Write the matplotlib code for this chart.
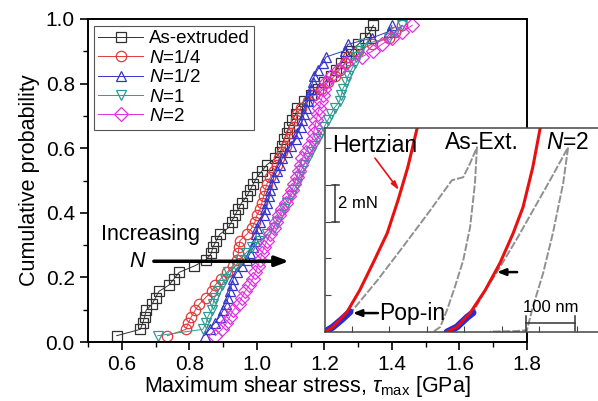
import numpy as np
import matplotlib
matplotlib.use('Agg')
import matplotlib.pyplot as plt

plt.rcParams['font.family'] = ['Liberation Sans', 'DejaVu Sans']
plt.rcParams['mathtext.fontset'] = 'custom'
plt.rcParams['mathtext.rm'] = 'Liberation Sans'
plt.rcParams['mathtext.it'] = 'Liberation Sans:italic'

# max shear stress at pop-in (GPa), sorted
as_extruded = [0.585, 0.655, 0.662, 0.668, 0.672, 0.69, 0.70, 0.71, 0.74, 0.755,
               0.77, 0.815, 0.85, 0.865, 0.87, 0.88, 0.89, 0.915, 0.925, 0.935,
               0.945, 0.955, 0.97, 0.98, 0.99, 1.0, 1.015, 1.03, 1.055, 1.07,
               1.075, 1.08, 1.09, 1.095, 1.105, 1.115, 1.12, 1.14, 1.16, 1.18,
               1.2, 1.22, 1.235, 1.25, 1.265, 1.28, 1.30, 1.32, 1.335, 1.345]
n_quarter = [0.735, 0.79, 0.797, 0.806, 0.817, 0.83, 0.848, 0.866, 0.877, 0.893,
             0.912, 0.928, 0.94, 0.945, 0.947, 0.95, 0.97, 0.985, 0.995, 1.0,
             1.01, 1.015, 1.02, 1.025, 1.03, 1.04, 1.05, 1.06, 1.066, 1.075,
             1.085, 1.095, 1.10, 1.11, 1.115, 1.12, 1.13, 1.15, 1.17, 1.19,
             1.21, 1.23, 1.245, 1.26, 1.27, 1.30, 1.34, 1.39, 1.41, 1.43]
n_half = [0.845, 0.86, 0.875, 0.89, 0.90, 0.91, 0.915, 0.92, 0.925, 0.93,
          0.94, 0.955, 0.97, 0.98, 0.99, 0.995, 0.998, 1.0, 1.01, 1.02,
          1.025, 1.03, 1.035, 1.04, 1.045, 1.05, 1.06, 1.07, 1.075, 1.09,
          1.10, 1.115, 1.12, 1.13, 1.135, 1.14, 1.145, 1.15, 1.155, 1.16,
          1.165, 1.17, 1.18, 1.195, 1.205, 1.26, 1.27, 1.34, 1.39, 1.40]
n_one = [0.707, 0.84, 0.85, 0.855, 0.866, 0.87, 0.875, 0.885, 0.896, 0.907,
         0.916, 0.937, 0.95, 0.967, 0.985, 1.01, 1.03, 1.05, 1.06, 1.07,
         1.08, 1.09, 1.10, 1.11, 1.12, 1.125, 1.13, 1.14, 1.15, 1.16,
         1.17, 1.18, 1.19, 1.2, 1.21, 1.22, 1.23, 1.245, 1.25, 1.255,
         1.265, 1.27, 1.28, 1.29, 1.295, 1.305, 1.315, 1.39, 1.41, 1.43]
n_two = [0.877, 0.896, 0.91, 0.92, 0.93, 0.946, 0.955, 0.965, 0.978, 0.988,
         0.995, 1.003, 1.01, 1.015, 1.022, 1.03, 1.04, 1.05, 1.056, 1.065,
         1.075, 1.085, 1.095, 1.105, 1.11, 1.118, 1.125, 1.13, 1.135, 1.145,
         1.155, 1.165, 1.168, 1.172, 1.176, 1.18, 1.185, 1.19, 1.195, 1.2,
         1.205, 1.22, 1.24, 1.265, 1.31, 1.345, 1.37, 1.40, 1.43, 1.46]

series = [(as_extruded, 'As-extruded', '#303030', 's'),
          (n_quarter, r'$N$=1/4', '#e03a3a', 'o'),
          (n_half, r'$N$=1/2', '#3535c8', '^'),
          (n_one, r'$N$=1', '#2f9a94', 'v'),
          (n_two, r'$N$=2', '#e030e0', 'D')]

# inset: load (mN) vs depth (nm)
hertz1_h = [0, 16, 45, 71, 98, 127, 149, 169, 188]
hertz1_p = [0, 0.27, 1.09, 2.28, 3.75, 5.38, 7.17, 8.97, 11.09]
hertz2_h = [249, 269, 296, 327, 357, 384, 404, 424, 439]
hertz2_p = [0, 0.27, 1.03, 2.28, 3.75, 5.38, 6.79, 8.97, 11.09]
blue1_h = [0, 16, 35, 51]
blue1_p = [0, 0.27, 0.7, 1.1]
blue2_h = [249, 269, 290, 302]
blue2_p = [0, 0.27, 0.8, 1.05]
asext_h = [0, 16, 35, 51, 57, 108, 158, 210, 259, 282, 296, 310,
           306, 296, 282, 265, 249, 235, 220]
asext_p = [0, 0.27, 0.7, 1.09, 1.2, 2.85, 4.6, 6.45, 8.26, 8.42, 9.18, 10.05,
           8.1, 5.7, 3.9, 2.45, 1.2, 0.27, 0]
n2_h = [249, 269, 290, 302, 327, 351, 390, 424, 460, 496,
        486, 465, 445, 424, 412, 390, 337]
n2_p = [0, 0.27, 0.8, 1.05, 2.28, 3.26, 5.0, 6.6, 8.3, 10.05,
        8.1, 5.38, 3.2, 1.36, 0.1, 0.05, 0.02]

fig = plt.figure(figsize=(5.98, 4.01), dpi=100)
ax = fig.add_axes([88/598, 59/401, 439/598, 323/401])

for vals, lab, col, mk in series:
    x = np.array(vals)
    y = np.arange(1, len(x) + 1) / (len(x) + 1)
    ax.plot(x, y, color=col, lw=0.7, marker=mk, ms=7.5 if mk != 'D' else 7,
            mfc='none', mec=col, mew=0.9, label=lab)

ax.set_xlim(0.5, 1.8)
ax.set_ylim(0, 1.0)
ax.set_xticks([0.6, 0.8, 1.0, 1.2, 1.4, 1.6, 1.8])
ax.set_xticks(np.arange(0.5, 1.81, 0.1), minor=True)
ax.set_yticks(np.arange(0, 1.01, 0.2))
ax.set_yticks(np.arange(0, 1.01, 0.1), minor=True)
ax.xaxis.set_major_formatter(matplotlib.ticker.FormatStrFormatter('%.1f'))
ax.yaxis.set_major_formatter(matplotlib.ticker.FormatStrFormatter('%.1f'))
ax.tick_params(which='major', direction='out', length=6, width=1.2, labelsize=15)
ax.tick_params(which='minor', direction='out', length=3.5, width=1.0)
for s in ax.spines.values():
    s.set_linewidth(1.4)
ax.set_xlabel(r'Maximum shear stress, $\tau_{\rm max}$ [GPa]', fontsize=15.5, labelpad=0)
ax.set_ylabel('Cumulative probability', fontsize=15.5, labelpad=4)

leg = ax.legend(loc='upper left', bbox_to_anchor=(0.0, 0.997), fontsize=13.5,
                handlelength=2.4, handletextpad=0.3, labelspacing=0.12,
                borderpad=0.25, borderaxespad=0.3, fancybox=False, framealpha=1)
leg.get_frame().set_edgecolor('#555555')
leg.get_frame().set_linewidth(0.8)

ax.text(0.684, 0.332, 'Increasing', fontsize=15.5, ha='center', va='center')
ax.text(0.667, 0.25, 'N', fontsize=15.5, style='italic', ha='right', va='center')
ax.annotate('', xy=(1.095, 0.25), xytext=(0.695, 0.25),
            arrowprops=dict(arrowstyle='-|>,head_length=0.8,head_width=0.3',
                            color='black', lw=2.5, shrinkA=0, shrinkB=0))

ins = fig.add_axes([325/598, 69/401, 273/598, 204/401])
ins.set_xlim(0, 557)
ins.set_ylim(0, 11.1)
ins.plot(asext_h, asext_p, color='#909090', lw=1.4, ls=(0, (4, 1)))
ins.plot(n2_h, n2_p, color='#909090', lw=1.4, ls=(0, (4, 1)))
ins.plot(blue1_h, blue1_p, color='#2b2bd8', lw=5, solid_capstyle='round')
ins.plot(blue2_h, blue2_p, color='#2b2bd8', lw=5, solid_capstyle='round')
ins.plot(hertz1_h, hertz1_p, color='#e81010', lw=2.2)
ins.plot(hertz2_h, hertz2_p, color='#e81010', lw=2.2)
ins.set_xticks(np.arange(55, 557, 76.5))
ins.set_yticks([2, 4, 6, 8, 10])
ins.tick_params(direction='in', length=4, width=0.8, labelbottom=False, labelleft=False,
                color='#444444')
ins.spines['right'].set_visible(False)
for k in ['top', 'left', 'bottom']:
    ins.spines[k].set_linewidth(1.1)
    ins.spines[k].set_color('#444444')

ins.text(14, 10.16, 'Hertzian', fontsize=16.5, ha='left', va='center')
ins.text(320, 10.3, 'As-Ext.', fontsize=16.5, ha='center', va='center')
ins.text(496, 10.3, r'$N$=2', fontsize=16.5, ha='center', va='center')
ins.annotate('', xy=(151, 7.72), xytext=(102, 9.46),
             arrowprops=dict(arrowstyle='-|>,head_length=0.5,head_width=0.15',
                             color='#e81010', lw=1.2, shrinkA=0, shrinkB=0))
ins.annotate('', xy=(57, 1.03), xytext=(108, 1.03),
             arrowprops=dict(arrowstyle='-|>,head_length=0.5,head_width=0.2',
                             color='black', lw=1.8, shrinkA=0, shrinkB=0))
ins.text(110, 1.03, 'Pop-in', fontsize=16.5, ha='left', va='center')
ins.annotate('', xy=(351, 3.26), xytext=(392, 3.26),
             arrowprops=dict(arrowstyle='-|>,head_length=0.5,head_width=0.2',
                             color='black', lw=1.8, shrinkA=0, shrinkB=0))

# scale bars
ins.plot([20, 20], [6.0, 8.0], color='#333333', lw=1.1)
ins.plot([14, 28], [8.0, 8.0], color='#333333', lw=1.1)
ins.plot([14, 28], [6.0, 6.0], color='#333333', lw=1.1)
ins.text(27, 7.0, '2 mN', fontsize=12, ha='left', va='center')
ins.plot([410, 510], [0.49, 0.49], color='#333333', lw=1.1)
ins.plot([410, 410], [0.05, 0.85], color='#333333', lw=1.1)
ins.plot([510, 510], [0.05, 0.85], color='#333333', lw=1.1)
ins.text(460, 1.35, '100 nm', fontsize=12, ha='center', va='center')

fig.savefig('out.png', dpi=100)
